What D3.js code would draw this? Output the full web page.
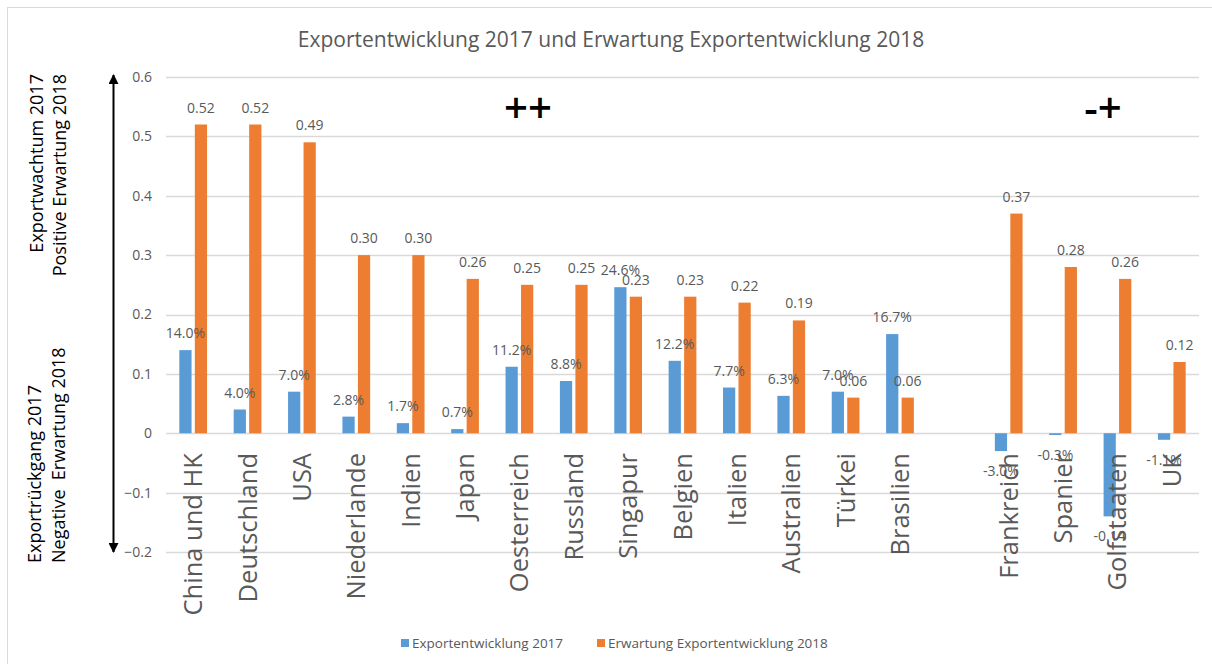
<!DOCTYPE html>
<html lang="de">
<head>
<meta charset="utf-8">
<title>Exportentwicklung 2017 und Erwartung 2018</title>
<script src="https://cdn.jsdelivr.net/npm/d3@7"></script>
<style>
  body { margin: 0; background: #fff; }
  text { font-family: "Open Sans", "Noto Sans", sans-serif; }
</style>
</head>
<body>
<div id="chart"></div>
<script>
// Daten, leerer Eintrag = Lücke zwischen den Gruppen
var categories = ["China und HK", "Deutschland", "USA", "Niederlande", "Indien", "Japan",
                  "Oesterreich", "Russland", "Singapur", "Belgien", "Italien", "Australien",
                  "Türkei", "Brasilien", "", "Frankreich", "Spanier", "Golfstaaten", "UK"];
var export2017 = [0.14, 0.04, 0.07, 0.028, 0.017, 0.007, 0.112, 0.088, 0.246, 0.122, 0.077,
                  0.063, 0.07, 0.167, null, -0.03, -0.003, -0.14, -0.011];
var export2017Labels = ["14.0%", "4.0%", "7.0%", "2.8%", "1.7%", "0.7%", "11.2%", "8.8%",
                        "24.6%", "12.2%", "7.7%", "6.3%", "7.0%", "16.7%", "", "-3.0%",
                        "-0.3%", "-0.14", "-1.1%"];
var erwartung2018 = [0.52, 0.52, 0.49, 0.30, 0.30, 0.26, 0.25, 0.25, 0.23, 0.23, 0.22, 0.19,
                     0.06, 0.06, null, 0.37, 0.28, 0.26, 0.12];
var yTicks = [-0.2, -0.1, 0, 0.1, 0.2, 0.3, 0.4, 0.5, 0.6];
var seriesNames = ["Exportentwicklung 2017", "Erwartung Exportentwicklung 2018"];
var colors = ["#5B9BD5", "#ED7D31"];

var w = 1212, h = 664;
var grey = "#595959";

var svg = d3.select("#chart").append("svg")
            .attr("width", w)
            .attr("height", h);

// Rahmen
svg.append("rect")
   .attr("x", 7.5).attr("y", 7.5)
   .attr("width", w + 20).attr("height", h + 20)
   .attr("fill", "none")
   .attr("stroke", "#D9D9D9");

// Skalen
var xScale = d3.scaleBand()
               .domain(d3.range(categories.length))
               .range([166, 1199])
               .paddingInner(0)
               .paddingOuter(0);
var step = xScale.bandwidth();
var barW = step * 0.225;
var barGap = step * 0.06;

var yScale = d3.scaleLinear()
               .domain([-0.2, 0.6])
               .range([552, 77]);

function center(i){ return xScale(i) + step / 2; }

// Gitterlinien
svg.append("g")
   .selectAll("line")
   .data(yTicks)
   .enter()
   .append("line")
   .attr("x1", 166).attr("x2", 1199)
   .attr("y1", function(d){ return Math.round(yScale(d)) + 0.5; })
   .attr("y2", function(d){ return Math.round(yScale(d)) + 0.5; })
   .attr("stroke", "#D9D9D9")
   .attr("stroke-width", 1.3);

// y-Achse (nur Beschriftung)
var yAxis = d3.axisLeft(yScale)
              .tickValues(yTicks)
              .tickSize(0)
              .tickPadding(0)
              .tickFormat(function(d){ return d === 0 ? "0" : d3.format(".1f")(d); });
var gy = svg.append("g")
            .attr("transform", "translate(152,0)")
            .call(yAxis);
gy.select(".domain").remove();
gy.selectAll("text")
  .attr("font-family", "Open Sans")
  .attr("font-size", "14px")
  .attr("fill", grey);

// Balken (null = Lücke, Höhe 0)
var bars = svg.append("g");
bars.selectAll("rect.b2017")
    .data(export2017)
    .enter()
    .append("rect")
    .attr("class", "b2017")
    .attr("x", function(d, i){ return center(i) - barGap / 2 - barW; })
    .attr("y", function(d){ return yScale(Math.max(0, d || 0)); })
    .attr("width", barW)
    .attr("height", function(d){ return Math.abs(yScale(d || 0) - yScale(0)); })
    .attr("fill", colors[0]);

bars.selectAll("rect.b2018")
    .data(erwartung2018)
    .enter()
    .append("rect")
    .attr("class", "b2018")
    .attr("x", function(d, i){ return center(i) + barGap / 2; })
    .attr("y", function(d){ return yScale(Math.max(0, d || 0)); })
    .attr("width", barW)
    .attr("height", function(d){ return Math.abs(yScale(d || 0) - yScale(0)); })
    .attr("fill", colors[1]);

// Kategorien (gedreht)
svg.append("g")
   .selectAll("text")
   .data(categories)
   .enter()
   .append("text")
   .attr("transform", function(d, i){ return "translate(" + (center(i) + 9) + ",453) rotate(-90)"; })
   .attr("text-anchor", "end")
   .attr("font-size", "25.5px")
   .attr("fill", grey)
   .text(function(d){ return d; });

// Datenbeschriftungen
var labels = svg.append("g");
labels.selectAll("text.l2017")
      .data(export2017)
      .enter()
      .append("text")
      .attr("class", "l2017")
      .attr("x", function(d, i){ return center(i) - barGap / 2 - barW / 2; })
      .attr("y", function(d){
          if (d === null) return 0;
          return d >= 0 ? yScale(d) - 12 : yScale(d) + 25;
      })
      .attr("text-anchor", "middle")
      .attr("font-size", "14px")
      .attr("fill", grey)
      .text(function(d, i){ return d === null ? "" : export2017Labels[i]; });

labels.selectAll("text.l2018")
      .data(erwartung2018)
      .enter()
      .append("text")
      .attr("class", "l2018")
      .attr("x", function(d, i){ return center(i) + barGap / 2 + barW / 2; })
      .attr("y", function(d){ return d === null ? 0 : yScale(d) - 12; })
      .attr("text-anchor", "middle")
      .attr("font-size", "14px")
      .attr("fill", grey)
      .text(function(d){ return d === null ? "" : d3.format(".2f")(d); });

// Titel
svg.append("text")
   .attr("x", 611).attr("y", 47)
   .attr("text-anchor", "middle")
   .attr("font-size", "21px")
   .attr("fill", grey)
   .text("Exportentwicklung 2017 und Erwartung Exportentwicklung 2018");

// Quadranten-Markierungen
svg.append("text")
   .attr("x", 528).attr("y", 123)
   .attr("text-anchor", "middle")
   .attr("font-size", "42px")
   .attr("font-weight", 600)
   .attr("fill", "#000")
   .text("++");
svg.append("text")
   .attr("x", 1103).attr("y", 123)
   .attr("text-anchor", "middle")
   .attr("font-size", "42px")
   .attr("font-weight", 600)
   .attr("fill", "#000")
   .text("-+");

// Doppelpfeil links
var defs = svg.append("defs");
defs.append("marker")
    .attr("id", "arrow")
    .attr("viewBox", "0 0 10 10")
    .attr("refX", 9).attr("refY", 5)
    .attr("markerWidth", 5).attr("markerHeight", 5)
    .attr("orient", "auto-start-reverse")
    .append("path")
    .attr("d", "M0,0 L10,5 L0,10 z")
    .attr("fill", "#000");
svg.append("line")
   .attr("x1", 113.5).attr("x2", 113.5)
   .attr("y1", 75).attr("y2", 552)
   .attr("stroke", "#000")
   .attr("stroke-width", 2)
   .attr("marker-start", "url(#arrow)")
   .attr("marker-end", "url(#arrow)");

// seitliche Beschriftungen
var sideUp = [["Exportwachtum 2017", 43], ["Positive Erwartung 2018", 66]];
var sideDown = [["Exportrückgang 2017", 41], ["Negative  Erwartung 2018", 65]];
svg.selectAll("text.sideUp")
   .data(sideUp)
   .enter()
   .append("text")
   .attr("class", "sideUp")
   .attr("transform", function(d){ return "translate(" + d[1] + ",74) rotate(-90)"; })
   .attr("text-anchor", "end")
   .attr("font-size", "18px")
   .attr("fill", "#000")
   .text(function(d){ return d[0]; });
svg.selectAll("text.sideDown")
   .data(sideDown)
   .enter()
   .append("text")
   .attr("class", "sideDown")
   .attr("transform", function(d){ return "translate(" + d[1] + ",563) rotate(-90)"; })
   .attr("text-anchor", "start")
   .attr("font-size", "18px")
   .attr("fill", "#000")
   .style("white-space", "pre")
   .text(function(d){ return d[0]; });

// Legende
var legendX = [401, 597];
var legend = svg.append("g");
legend.selectAll("rect")
      .data(seriesNames)
      .enter()
      .append("rect")
      .attr("x", function(d, i){ return legendX[i]; })
      .attr("y", 639)
      .attr("width", 8).attr("height", 8)
      .attr("fill", function(d, i){ return colors[i]; });
legend.selectAll("text")
      .data(seriesNames)
      .enter()
      .append("text")
      .attr("x", function(d, i){ return legendX[i] + 11; })
      .attr("y", 648)
      .attr("font-size", "13.5px")
      .attr("fill", grey)
      .text(function(d){ return d; });
</script>
</body>
</html>
